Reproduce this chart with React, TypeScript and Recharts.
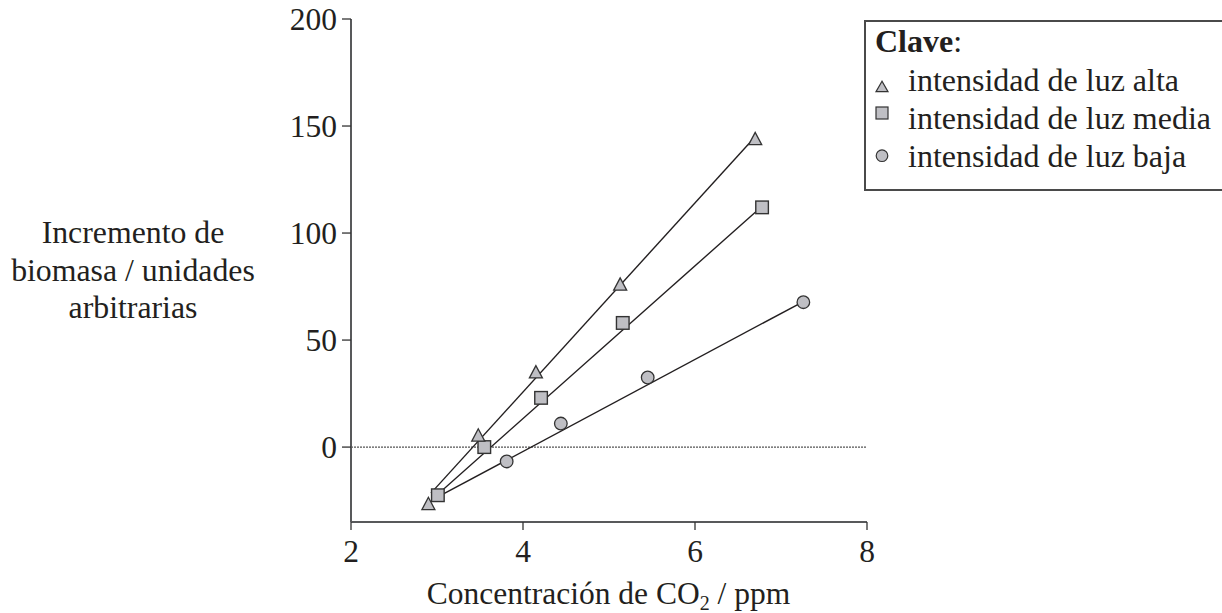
import { ScatterChart, Scatter, XAxis, YAxis, ReferenceLine, Legend } from 'recharts'

const FONT = '"Liberation Serif", "Times New Roman", Times, serif'
const INK = '#231f20'
const FILL = '#bfbfc4'

// measured points
const alta = [
  { x: 2.9, y: -26.5 },
  { x: 3.48, y: 5.5 },
  { x: 4.15, y: 35 },
  { x: 5.13, y: 76 },
  { x: 6.7, y: 144 },
]
const media = [
  { x: 3.01, y: -22.5 },
  { x: 3.55, y: 0 },
  { x: 4.21, y: 23 },
  { x: 5.16, y: 58 },
  { x: 6.78, y: 112 },
]
const baja = [
  { x: 3.81, y: -6.7 },
  { x: 4.44, y: 11 },
  { x: 5.45, y: 32.5 },
  { x: 7.26, y: 67.7 },
]

// best-fit line ends
const fitAlta = [{ x: 2.93, y: -21.5 }, { x: 6.7, y: 145 }]
const fitMedia = [{ x: 3.01, y: -22 }, { x: 6.78, y: 112.5 }]
const fitBaja = [{ x: 3.01, y: -23.3 }, { x: 7.26, y: 68 }]

const xTicks = [2, 4, 6, 8]
const yTicks = [0, 50, 100, 150, 200]
const yLabelLines = ['Incremento de', 'biomasa / unidades', 'arbitrarias']
const legendTitle = 'Clave'
const legendItems = [
  { shape: 'triangle', label: 'intensidad de luz alta' },
  { shape: 'square', label: 'intensidad de luz media' },
  { shape: 'circle', label: 'intensidad de luz baja' },
]

function Triangle({ cx, cy }: any) {
  return (
    <polygon
      points={`${cx},${cy - 6.5} ${cx - 6.5},${cy + 5.8} ${cx + 6.5},${cy + 5.8}`}
      fill={FILL}
      stroke="#333"
      strokeWidth={1.3}
      strokeLinejoin="miter"
    />
  )
}

function Square({ cx, cy }: any) {
  return <rect x={cx - 6.3} y={cy - 6.3} width={12.6} height={12.6} fill={FILL} stroke="#333" strokeWidth={1.4} />
}

function Circle({ cx, cy }: any) {
  return <circle cx={cx} cy={cy} r={6.3} fill={FILL} stroke="#333" strokeWidth={1.3} />
}

const noDot = () => <g />

function YLabel() {
  return (
    <text x={133} textAnchor="middle" fontFamily={FONT} fontSize={31.8} fill={INK}>
      {yLabelLines.map((l, i) => (
        <tspan key={i} x={133} y={243 + i * 37.5}>
          {l}
        </tspan>
      ))}
    </text>
  )
}

function XLabel() {
  return (
    <text x={608.5} y={604} textAnchor="middle" fontFamily={FONT} fontSize={31.5} fill={INK}>
      <tspan>Concentración de CO</tspan>
      <tspan fontSize={20} dy={6}>2</tspan>
      <tspan dy={-6}> / ppm</tspan>
    </text>
  )
}

function LegendMarker({ shape, cx, cy }: { shape: string; cx: number; cy: number }) {
  if (shape === 'triangle')
    return (
      <polygon
        points={`${cx},${cy - 5.5} ${cx - 6},${cy + 5} ${cx + 6},${cy + 5}`}
        fill={FILL}
        stroke="#333"
        strokeWidth={1.2}
      />
    )
  if (shape === 'square')
    return <rect x={cx - 6} y={cy - 6} width={12} height={12} fill={FILL} stroke="#333" strokeWidth={1.2} />
  return <circle cx={cx} cy={cy} r={5.8} fill={FILL} stroke="#333" strokeWidth={1.2} />
}

const markerY = [66.7, 93, 135.7]

function KeyBox() {
  return (
    <svg width={360} height={172} style={{ display: 'block' }}>
      <rect x={1} y={1} width={400} height={169} fill="#fff" stroke="#4a4a4a" strokeWidth={2} />
      <text x={11} y={31.7} fontFamily={FONT} fontSize={32} fill={INK}>
        <tspan fontWeight="bold">{legendTitle}</tspan>
        <tspan>:</tspan>
      </text>
      {legendItems.map((it, i) => (
        <g key={it.label}>
          <LegendMarker shape={it.shape} cx={18} cy={markerY[i]} />
          <text x={44} y={70.7 + i * 38} fontFamily={FONT} fontSize={32} fill={INK}>
            {it.label}
          </text>
        </g>
      ))}
    </svg>
  )
}

export default function App() {
  const axisLine = { stroke: '#58595b', strokeWidth: 2 }
  const tickLine = { stroke: '#333', strokeWidth: 1.3 }
  const tickStyle = { fontSize: 31.5, fill: INK, fontFamily: FONT }
  const lineStyle = { stroke: INK, strokeWidth: 1.4 }
  return (
    <div style={{ position: 'absolute', left: 0, top: 0, width: 1222, height: 613, overflow: 'hidden', background: '#fff' }}>
      <ScatterChart width={1222} height={613} margin={{ top: 19, right: 355, bottom: 41, left: 271 }}>
        <XAxis
          type="number"
          dataKey="x"
          domain={[2, 8]}
          ticks={xTicks}
          axisLine={axisLine}
          tickLine={tickLine}
          tickSize={8}
          tickMargin={10}
          tick={tickStyle}
          height={50}
          label={<XLabel />}
        />
        <YAxis
          type="number"
          dataKey="y"
          domain={[-35, 200]}
          ticks={yTicks}
          axisLine={axisLine}
          tickLine={tickLine}
          tickSize={9}
          tickMargin={5}
          tick={tickStyle}
          width={80}
          label={<YLabel />}
        />
        <ReferenceLine y={0} stroke="#555" strokeWidth={1.2} strokeDasharray="2 1" />
        <Legend
          layout="vertical"
          align="center"
          verticalAlign="middle"
          wrapperStyle={{ left: 864, top: 20, width: 360, height: 172 }}
          content={() => <KeyBox />}
        />
        <Scatter data={fitAlta} line={lineStyle} shape={noDot} legendType="none" isAnimationActive={false} />
        <Scatter data={fitMedia} line={lineStyle} shape={noDot} legendType="none" isAnimationActive={false} />
        <Scatter data={fitBaja} line={lineStyle} shape={noDot} legendType="none" isAnimationActive={false} />
        <Scatter name="intensidad de luz baja" data={baja} shape={Circle} isAnimationActive={false} />
        <Scatter name="intensidad de luz media" data={media} shape={Square} isAnimationActive={false} />
        <Scatter name="intensidad de luz alta" data={alta} shape={Triangle} isAnimationActive={false} />
      </ScatterChart>
    </div>
  )
}
